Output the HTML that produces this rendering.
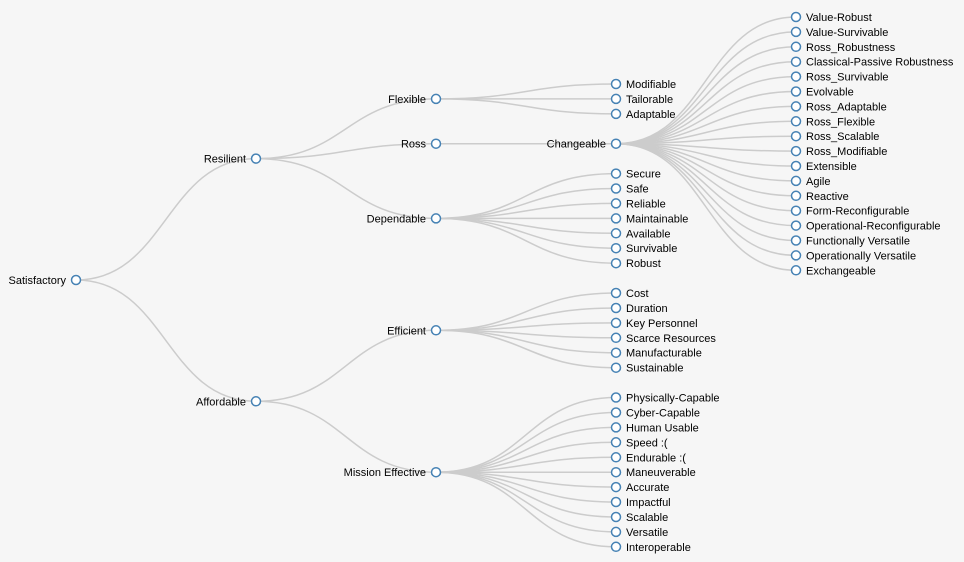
<!DOCTYPE html>
<html><head><meta charset="utf-8"><style>
body{margin:0;background:#f6f6f6;}
svg{display:block}
path{fill:none;stroke:#ccc;stroke-width:1.5}
circle{fill:#fff;stroke:steelblue;stroke-width:1.5}
text{font:11px "Liberation Sans",Arial,sans-serif;fill:#000}
.l{text-anchor:end}
</style></head><body>
<svg width="964" height="562" viewBox="0 0 964 562">
<g>
<path d="M76 280C166 280 166 158.6 256 158.6"/>
<path d="M76 280C166 280 166 401.3 256 401.3"/>
<path d="M256 158.6C346 158.6 346 98.9 436 98.9"/>
<path d="M256 158.6C346 158.6 346 143.7 436 143.7"/>
<path d="M256 158.6C346 158.6 346 218.4 436 218.4"/>
<path d="M256 401.3C346 401.3 346 330.3 436 330.3"/>
<path d="M256 401.3C346 401.3 346 472.2 436 472.2"/>
<path d="M436 98.9C526 98.9 526 84 616 84"/>
<path d="M436 98.9C526 98.9 526 98.9 616 98.9"/>
<path d="M436 98.9C526 98.9 526 113.9 616 113.9"/>
<path d="M436 143.7C526 143.7 526 143.7 616 143.7"/>
<path d="M436 218.4C526 218.4 526 173.6 616 173.6"/>
<path d="M436 218.4C526 218.4 526 188.5 616 188.5"/>
<path d="M436 218.4C526 218.4 526 203.4 616 203.4"/>
<path d="M436 218.4C526 218.4 526 218.4 616 218.4"/>
<path d="M436 218.4C526 218.4 526 233.3 616 233.3"/>
<path d="M436 218.4C526 218.4 526 248.2 616 248.2"/>
<path d="M436 218.4C526 218.4 526 263.2 616 263.2"/>
<path d="M436 330.3C526 330.3 526 293 616 293"/>
<path d="M436 330.3C526 330.3 526 308 616 308"/>
<path d="M436 330.3C526 330.3 526 322.9 616 322.9"/>
<path d="M436 330.3C526 330.3 526 337.8 616 337.8"/>
<path d="M436 330.3C526 330.3 526 352.7 616 352.7"/>
<path d="M436 330.3C526 330.3 526 367.7 616 367.7"/>
<path d="M436 472.2C526 472.2 526 397.5 616 397.5"/>
<path d="M436 472.2C526 472.2 526 412.5 616 412.5"/>
<path d="M436 472.2C526 472.2 526 427.4 616 427.4"/>
<path d="M436 472.2C526 472.2 526 442.3 616 442.3"/>
<path d="M436 472.2C526 472.2 526 457.3 616 457.3"/>
<path d="M436 472.2C526 472.2 526 472.2 616 472.2"/>
<path d="M436 472.2C526 472.2 526 487.1 616 487.1"/>
<path d="M436 472.2C526 472.2 526 502 616 502"/>
<path d="M436 472.2C526 472.2 526 517 616 517"/>
<path d="M436 472.2C526 472.2 526 531.9 616 531.9"/>
<path d="M436 472.2C526 472.2 526 546.8 616 546.8"/>
<path d="M616 143.7C706 143.7 706 17 796 17"/>
<path d="M616 143.7C706 143.7 706 31.9 796 31.9"/>
<path d="M616 143.7C706 143.7 706 46.8 796 46.8"/>
<path d="M616 143.7C706 143.7 706 61.7 796 61.7"/>
<path d="M616 143.7C706 143.7 706 76.6 796 76.6"/>
<path d="M616 143.7C706 143.7 706 91.5 796 91.5"/>
<path d="M616 143.7C706 143.7 706 106.4 796 106.4"/>
<path d="M616 143.7C706 143.7 706 121.3 796 121.3"/>
<path d="M616 143.7C706 143.7 706 136.2 796 136.2"/>
<path d="M616 143.7C706 143.7 706 151.1 796 151.1"/>
<path d="M616 143.7C706 143.7 706 166 796 166"/>
<path d="M616 143.7C706 143.7 706 180.9 796 180.9"/>
<path d="M616 143.7C706 143.7 706 195.8 796 195.8"/>
<path d="M616 143.7C706 143.7 706 210.7 796 210.7"/>
<path d="M616 143.7C706 143.7 706 225.6 796 225.6"/>
<path d="M616 143.7C706 143.7 706 240.5 796 240.5"/>
<path d="M616 143.7C706 143.7 706 255.4 796 255.4"/>
<path d="M616 143.7C706 143.7 706 270.3 796 270.3"/>
</g>
<g>
<circle cx="76" cy="280" r="4.5"/><text class="l" x="66" y="284">Satisfactory</text>
<circle cx="256" cy="158.6" r="4.5"/><text class="l" x="246" y="162.6">Resilient</text>
<circle cx="256" cy="401.3" r="4.5"/><text class="l" x="246" y="405.3">Affordable</text>
<circle cx="436" cy="98.9" r="4.5"/><text class="l" x="426" y="102.9">Flexible</text>
<circle cx="436" cy="143.7" r="4.5"/><text class="l" x="426" y="147.7">Ross</text>
<circle cx="436" cy="218.4" r="4.5"/><text class="l" x="426" y="222.4">Dependable</text>
<circle cx="436" cy="330.3" r="4.5"/><text class="l" x="426" y="334.3">Efficient</text>
<circle cx="436" cy="472.2" r="4.5"/><text class="l" x="426" y="476.2">Mission Effective</text>
<circle cx="616" cy="143.7" r="4.5"/><text class="l" x="606" y="147.7">Changeable</text>
</g>
<g>
<circle cx="616" cy="84" r="4.5"/><text x="626" y="88">Modifiable</text>
<circle cx="616" cy="98.9" r="4.5"/><text x="626" y="102.9">Tailorable</text>
<circle cx="616" cy="113.9" r="4.5"/><text x="626" y="117.9">Adaptable</text>
<circle cx="616" cy="173.6" r="4.5"/><text x="626" y="177.6">Secure</text>
<circle cx="616" cy="188.5" r="4.5"/><text x="626" y="192.5">Safe</text>
<circle cx="616" cy="203.4" r="4.5"/><text x="626" y="207.4">Reliable</text>
<circle cx="616" cy="218.4" r="4.5"/><text x="626" y="222.4">Maintainable</text>
<circle cx="616" cy="233.3" r="4.5"/><text x="626" y="237.3">Available</text>
<circle cx="616" cy="248.2" r="4.5"/><text x="626" y="252.2">Survivable</text>
<circle cx="616" cy="263.2" r="4.5"/><text x="626" y="267.2">Robust</text>
<circle cx="616" cy="293" r="4.5"/><text x="626" y="297">Cost</text>
<circle cx="616" cy="308" r="4.5"/><text x="626" y="312">Duration</text>
<circle cx="616" cy="322.9" r="4.5"/><text x="626" y="326.9">Key Personnel</text>
<circle cx="616" cy="337.8" r="4.5"/><text x="626" y="341.8">Scarce Resources</text>
<circle cx="616" cy="352.7" r="4.5"/><text x="626" y="356.7">Manufacturable</text>
<circle cx="616" cy="367.7" r="4.5"/><text x="626" y="371.7">Sustainable</text>
<circle cx="616" cy="397.5" r="4.5"/><text x="626" y="401.5">Physically-Capable</text>
<circle cx="616" cy="412.5" r="4.5"/><text x="626" y="416.5">Cyber-Capable</text>
<circle cx="616" cy="427.4" r="4.5"/><text x="626" y="431.4">Human Usable</text>
<circle cx="616" cy="442.3" r="4.5"/><text x="626" y="446.3">Speed :(</text>
<circle cx="616" cy="457.3" r="4.5"/><text x="626" y="461.3">Endurable :(</text>
<circle cx="616" cy="472.2" r="4.5"/><text x="626" y="476.2">Maneuverable</text>
<circle cx="616" cy="487.1" r="4.5"/><text x="626" y="491.1">Accurate</text>
<circle cx="616" cy="502" r="4.5"/><text x="626" y="506">Impactful</text>
<circle cx="616" cy="517" r="4.5"/><text x="626" y="521">Scalable</text>
<circle cx="616" cy="531.9" r="4.5"/><text x="626" y="535.9">Versatile</text>
<circle cx="616" cy="546.8" r="4.5"/><text x="626" y="550.8">Interoperable</text>
</g>
<g>
<circle cx="796" cy="17" r="4.5"/><text x="806" y="21">Value-Robust</text>
<circle cx="796" cy="31.9" r="4.5"/><text x="806" y="35.9">Value-Survivable</text>
<circle cx="796" cy="46.8" r="4.5"/><text x="806" y="50.8">Ross_Robustness</text>
<circle cx="796" cy="61.7" r="4.5"/><text x="806" y="65.7">Classical-Passive Robustness</text>
<circle cx="796" cy="76.6" r="4.5"/><text x="806" y="80.6">Ross_Survivable</text>
<circle cx="796" cy="91.5" r="4.5"/><text x="806" y="95.5">Evolvable</text>
<circle cx="796" cy="106.4" r="4.5"/><text x="806" y="110.4">Ross_Adaptable</text>
<circle cx="796" cy="121.3" r="4.5"/><text x="806" y="125.3">Ross_Flexible</text>
<circle cx="796" cy="136.2" r="4.5"/><text x="806" y="140.2">Ross_Scalable</text>
<circle cx="796" cy="151.1" r="4.5"/><text x="806" y="155.1">Ross_Modifiable</text>
<circle cx="796" cy="166" r="4.5"/><text x="806" y="170">Extensible</text>
<circle cx="796" cy="180.9" r="4.5"/><text x="806" y="184.9">Agile</text>
<circle cx="796" cy="195.8" r="4.5"/><text x="806" y="199.8">Reactive</text>
<circle cx="796" cy="210.7" r="4.5"/><text x="806" y="214.7">Form-Reconfigurable</text>
<circle cx="796" cy="225.6" r="4.5"/><text x="806" y="229.6">Operational-Reconfigurable</text>
<circle cx="796" cy="240.5" r="4.5"/><text x="806" y="244.5">Functionally Versatile</text>
<circle cx="796" cy="255.4" r="4.5"/><text x="806" y="259.4">Operationally Versatile</text>
<circle cx="796" cy="270.3" r="4.5"/><text x="806" y="274.3">Exchangeable</text>
</g>
</svg>
</body></html>
